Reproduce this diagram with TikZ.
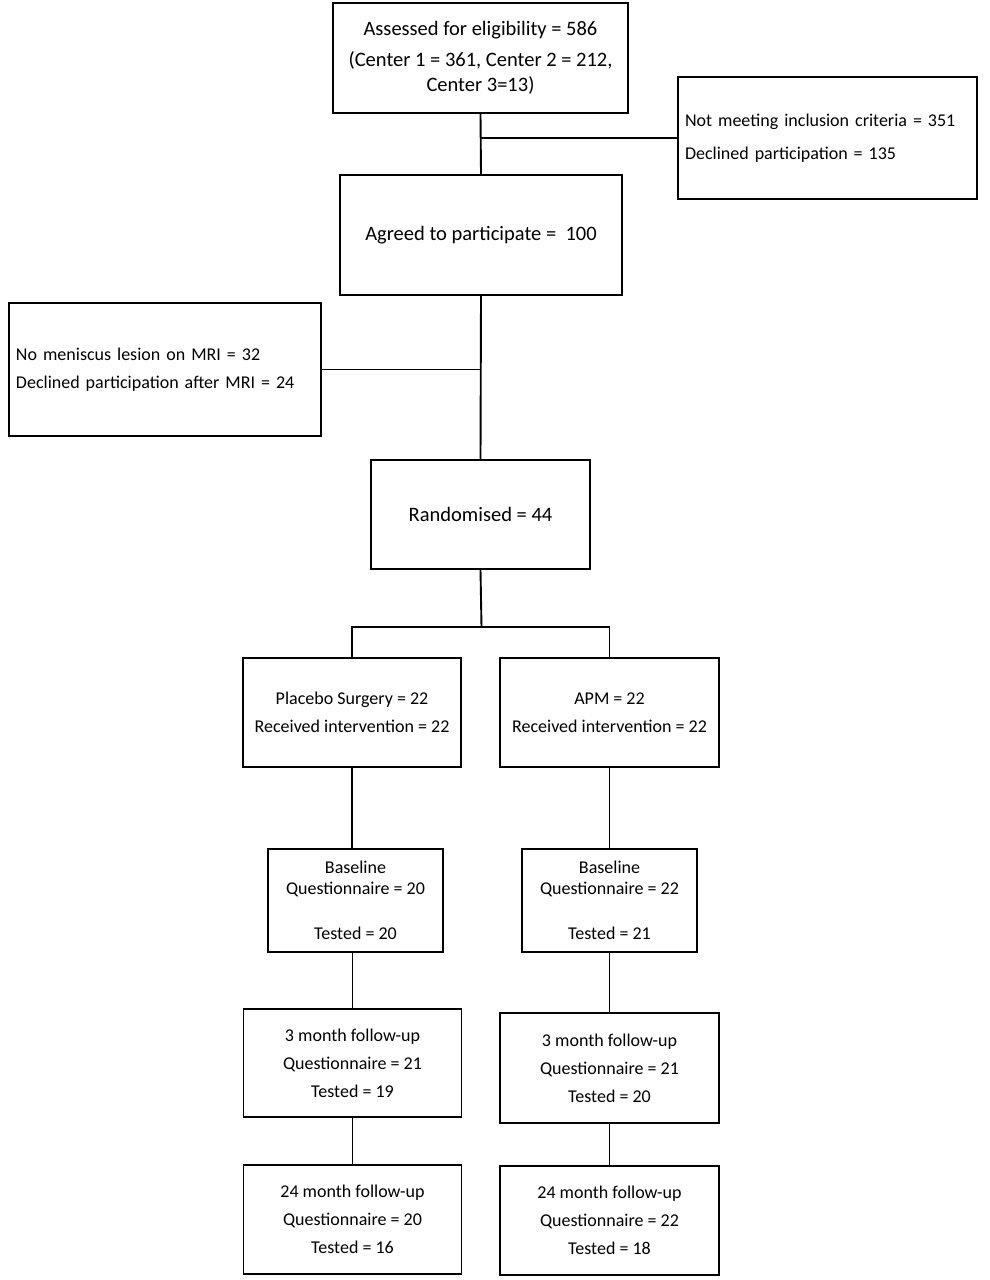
\documentclass[tikz,border=0pt]{standalone}
\usepackage{fontspec}
\setmainfont{Carlito}
\begin{document}
\begin{tikzpicture}[x=1pt,y=-1pt,
  box/.style={draw, line width=1.9pt, inner sep=2pt, align=center},
  ln/.style={line width=1.9pt},
  big/.style={font=\fontsize{20.5}{25}\selectfont},
  norm/.style={font=\fontsize{18}{28}\selectfont}]
\useasboundingbox (0,0) rectangle (989,1280);
\node[box, big, minimum width=295, minimum height=110] (assess) at (480.5,58)
  {Assessed for eligibility = 586\\[6pt](Center 1 = 361, Center 2 = 212,\\Center 3=13)};
\node[box, norm, font=\fontsize{18}{33}\selectfont, align=left, text width=285, inner xsep=7, minimum height=122] (notmeet) at (827.5,138)
  {Not meeting inclusion criteria = 351\\Declined participation = 135};
\node[box, big, minimum width=282, minimum height=120] (agree) at (481,235)
  {Agreed to participate = ~100};
\node[box, norm, align=left, text width=298, inner xsep=7, minimum height=133] (nomen) at (165,369.5)
  {No meniscus lesion on MRI = 32\\Declined participation after MRI = 24};
\node[box, big, minimum width=219, minimum height=109] (rand) at (480.5,514.5)
  {Randomised = 44};
\node[box, norm, minimum width=218, minimum height=109] (placebo) at (352,712.5)
  {Placebo Surgery = 22\\Received intervention = 22};
\node[box, norm, minimum width=219, minimum height=109] (apm) at (609.5,712.5)
  {APM = 22\\Received intervention = 22};
\node[box, norm, font=\fontsize{18}{21}\selectfont, minimum width=175, minimum height=103] (baseL) at (355.5,900.5)
  {Baseline\\Questionnaire = 20\\[24pt]Tested = 20};
\node[box, norm, font=\fontsize{18}{21}\selectfont, minimum width=175, minimum height=103] (baseR) at (609.5,900.5)
  {Baseline\\Questionnaire = 22\\[24pt]Tested = 21};
\node[box, norm, minimum width=218, minimum height=108] (thrL) at (352.5,1063)
  {3 month follow-up\\Questionnaire = 21\\Tested = 19};
\node[box, norm, minimum width=219, minimum height=110] (thrR) at (609.5,1068)
  {3 month follow-up\\Questionnaire = 21\\Tested = 20};
\node[box, norm, minimum width=218, minimum height=109] (twL) at (352.5,1219.5)
  {24 month follow-up\\Questionnaire = 20\\Tested = 16};
\node[box, norm, minimum width=219, minimum height=109] (twR) at (609.5,1220.5)
  {24 month follow-up\\Questionnaire = 22\\Tested = 18};
\coordinate (split) at (481.5,627);
\draw[ln] (assess.south) -- (agree.north);
\draw[ln] (assess.south |- notmeet.west) -- (notmeet.west);
\draw[ln] (agree.south) -- (rand.north);
\draw[ln] (nomen.east) -- (nomen.east -| rand.north);
\draw[ln] (rand.south) -- (split);
\draw[ln] (placebo.north) |- (split) -| (apm.north);
\draw[ln] (placebo.south) -- (placebo.south |- baseL.north);
\draw[ln] (apm.south) -- (apm.south |- baseR.north);
\draw[ln] (thrL.north |- baseL.south) -- (thrL.north);
\draw[ln] (thrR.north |- baseR.south) -- (thrR.north);
\draw[ln] (thrL.south) -- (twL.north);
\draw[ln] (thrR.south) -- (twR.north);
\end{tikzpicture}
\end{document}
